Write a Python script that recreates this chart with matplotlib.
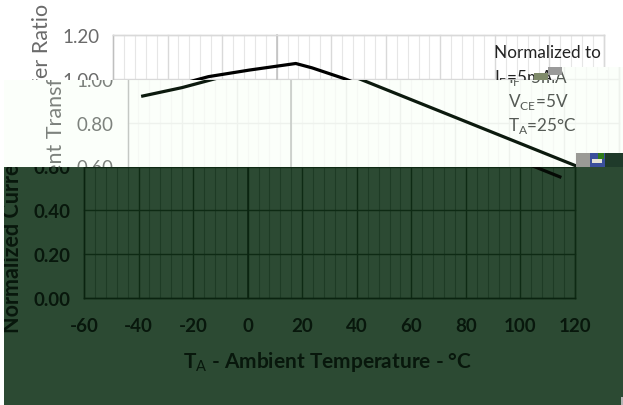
import matplotlib
matplotlib.use("Agg")
import matplotlib.pyplot as plt
from matplotlib.patches import Rectangle
from matplotlib.transforms import Bbox, IdentityTransform

plt.rcParams['font.family'] = ['Lato', 'DejaVu Sans']
plt.rcParams['mathtext.fontset'] = 'custom'
plt.rcParams['mathtext.rm'] = 'Lato'
plt.rcParams['axes.unicode_minus'] = False

temps = [-55, -40, -25, -10, 7, 13, 25, 50, 80, 100, 115]
ratio = [0.92, 0.96, 1.01, 1.04, 1.07, 1.05, 1.00, 0.875, 0.725, 0.625, 0.55]
x_ticks = [-60, -40, -20, 0, 20, 40, 60, 80, 100, 120]
y_ticks = [0.0, 0.2, 0.4, 0.6, 0.8, 1.0, 1.2]
notes = ['Normalized to', 'I$_{\\mathrm{F}}$=5mA', 'V$_{\\mathrm{CE}}$=5V', 'T$_{\\mathrm{A}}$=25°C']
note_rows = [53, 78, 102, 126]

W, H = 623, 406
fig = plt.figure(figsize=(W / 100, H / 100), dpi=100, facecolor='white')


def px(x, y):
    return x, H - y


def draw_band(shift, region, bg, major, minor, zero, tick_col, note_col, line_col, order, weight='normal'):
    # the picture is cut into rows that are shifted sideways, so each row gets its own axes
    x0, y0, x1, y1 = region
    clip = Bbox([[x0, H - y1], [x1, H - y0]])
    fig.add_artist(Rectangle((x0, H - y1), x1 - x0, y1 - y0, transform=IdentityTransform(),
                             facecolor=bg, edgecolor='none', zorder=order))
    ax = fig.add_axes([(84 + shift) / W, (H - 299) / H, 491 / W, 263 / H], zorder=order + 0.5)
    ax.patch.set_visible(False)
    ax.set_xlim(-60, 120)
    ax.set_ylim(0, 1.2)
    ax.set_xticks(x_ticks)
    ax.set_xticks([t for t in range(-60, 121, 4) if t % 20 != 0], minor=True)
    ax.set_yticks(y_ticks)
    ax.set_yticklabels(['%.2f' % v for v in y_ticks])
    ax.tick_params(which='both', length=0)
    ax.tick_params(axis='both', labelsize=13.5, labelcolor=tick_col)
    ax.tick_params(axis='x', pad=14)
    ax.tick_params(axis='y', pad=10)
    for lab in ax.get_xticklabels() + ax.get_yticklabels():
        lab.set_fontweight(weight)
    ax.grid(which='major', color=major, lw=1.0)
    ax.grid(which='minor', axis='x', color=minor, lw=0.8)
    ax.set_axisbelow(True)
    ax.axvline(0, color=zero, lw=1.1, zorder=1)
    for s in ax.spines.values():
        s.set_color(major)
        s.set_linewidth(1.0)
    ax.spines['left'].set_color(zero)
    ax.spines['bottom'].set_color(zero)
    ax.plot(temps, ratio, color=line_col, lw=2.3, solid_capstyle='butt', zorder=3)

    ident = IdentityTransform()
    ax.text(*px(13 + shift, 167), 'Normalized Current Transfer Ratio', transform=ident, rotation=90,
            ha='center', va='center', fontsize=15.5, color=tick_col, fontweight=weight)
    ax.text(*px(328 + shift, 362), 'T$_{\\mathrm{A}}$ - Ambient Temperature - °C', transform=ident,
            ha='center', va='center', fontsize=15, color=tick_col, fontweight=weight)
    for row, note in zip(note_rows, notes):
        ax.text(*px(464.5 + shift, row), note, transform=ident, ha='left', va='center',
                fontsize=12.3, color=note_col, zorder=4)

    for a in ax.findobj():
        if a is ax or a is ax.patch:
            continue
        a.set_clip_path(None)
        a.set_clip_box(clip)
        a.set_clip_on(True)


top = dict(bg='white', major='#d9d9d9', minor='#e6e6e6', zero='#bfbfbf',
           tick_col='#6a6a6a', note_col='#222222', line_col='black')
mid = dict(bg='#fbfffa', major='#eef2ed', minor='#f5f8f4', zero='#c4c8c4',
           tick_col='#7d827d', note_col='#555a55', line_col='#0c1a0e')
low = dict(bg='#2c4a33', major='#0e2a14', minor='#1e3b25', zero='#0a2310',
           tick_col='#08170c', note_col='#0b1f10', line_col='#050a05', weight='bold')

draw_band(29, (0, 0, W, 81), order=1, **top)
draw_band(43.5, (4, 81, W, 168), order=2, **mid)
draw_band(43.5, (557, 68, W, 81), order=3, **mid)
draw_band(0, (4, 168, W, H), order=4, **low)

# damaged blocks in the picture
glitches = [(576, 154, 14, 14, '#9a9a96'), (590, 154, 15, 14, '#3a4f9c'), (605, 154, 18, 14, '#1f3a2a'),
            (592, 160, 10, 4, '#e4e4d8'), (598, 154, 6, 6, '#2f7a1c'),
            (534, 74, 14, 7, '#7f8a6a'), (548, 68, 14, 8, '#9a9a9a'), (621, 398, 2, 8, '#b5b5b5')]
for gx, gy, gw, gh, gc in glitches:
    fig.add_artist(Rectangle((gx, H - gy - gh), gw, gh, transform=IdentityTransform(),
                             facecolor=gc, edgecolor='none', zorder=9))

fig.savefig('out.png', dpi=100)
